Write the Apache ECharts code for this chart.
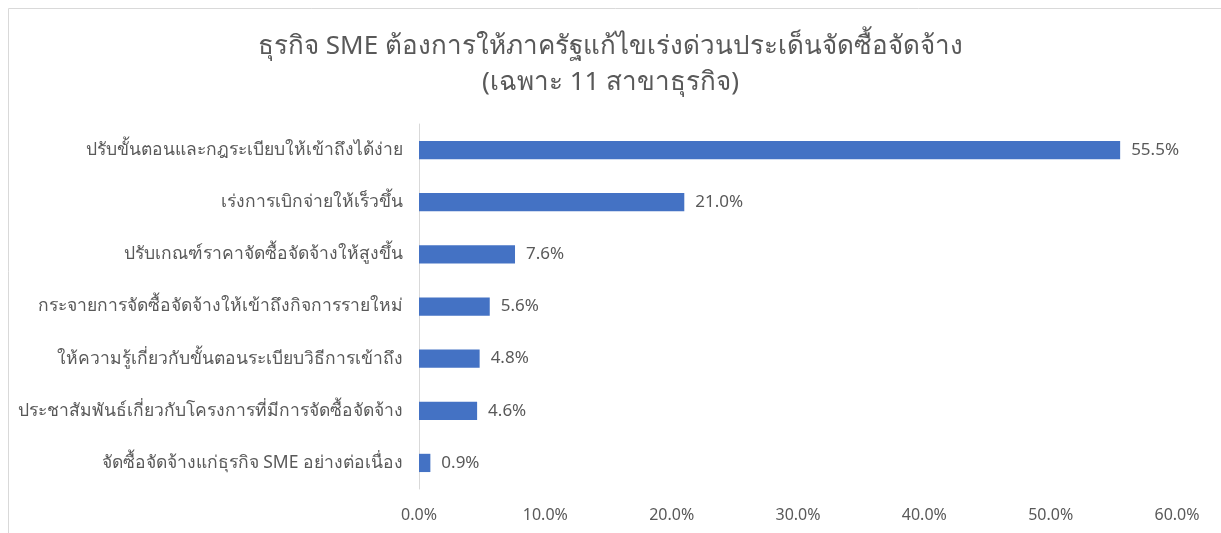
<!DOCTYPE html>
<html>
<head>
<meta charset="utf-8">
<script src="https://cdn.jsdelivr.net/npm/echarts@6/dist/echarts.min.js"></script>
<style>
  html, body { margin: 0; padding: 0; background: #fff; }
  #main { width: 1221px; height: 533px; }
</style>
</head>
<body>
<div id="main"></div>
<script>
// data (percent)
const categories = [
  'ปรับขั้นตอนและกฎระเบียบให้เข้าถึงได้ง่าย',
  'เร่งการเบิกจ่ายให้เร็วขึ้น',
  'ปรับเกณฑ์ราคาจัดซื้อจัดจ้างให้สูงขึ้น',
  'กระจายการจัดซื้อจัดจ้างให้เข้าถึงกิจการรายใหม่',
  'ให้ความรู้เกี่ยวกับขั้นตอนระเบียบวิธีการเข้าถึง',
  'ประชาสัมพันธ์เกี่ยวกับโครงการที่มีการจัดซื้อจัดจ้าง',
  'จัดซื้อจัดจ้างแก่ธุรกิจ SME อย่างต่อเนื่อง'
];
const values = [55.5, 21.0, 7.6, 5.6, 4.8, 4.6, 0.9];
const titleLines = [
  'ธุรกิจ SME ต้องการให้ภาครัฐแก้ไขเร่งด่วนประเด็นจัดซื้อจัดจ้าง',
  '(เฉพาะ 11 สาขาธุรกิจ)'
];

let myChart = echarts.init(document.getElementById('main'));
const textColor = '#595959';

let option = {
  animation: false,
  textStyle: { fontFamily: 'Noto Sans, sans-serif' },
  title: {
    text: titleLines.join('\n'),
    left: 'center',
    top: 24,
    textStyle: {
      color: textColor,
      fontSize: 26,
      fontWeight: 'normal',
      lineHeight: 36
    }
  },
  graphic: [
    {
      type: 'rect',
      silent: true,
      shape: { x: 8.5, y: 8.5, width: 1400, height: 700 },
      style: { fill: 'none', stroke: '#d9d9d9', lineWidth: 1 }
    }
  ],
  grid: { left: 419, right: 44, top: 124, bottom: 44 },
  xAxis: {
    type: 'value',
    min: 0,
    max: 60,
    interval: 10,
    splitLine: { show: false },
    axisLine: { show: false },
    axisTick: { show: false },
    axisLabel: {
      color: textColor,
      fontSize: 16,
      margin: 18,
      formatter: v => v.toFixed(1) + '%'
    }
  },
  yAxis: {
    type: 'category',
    inverse: true,
    data: categories,
    axisLine: { show: true, lineStyle: { color: '#d9d9d9' } },
    axisTick: { show: false },
    axisLabel: { color: textColor, fontSize: 17.5, margin: 16 }
  },
  series: [
    {
      type: 'bar',
      data: values,
      barCategoryGap: '65%',
      itemStyle: { color: '#4472c4' },
      label: {
        show: true,
        position: 'right',
        distance: 11,
        color: textColor,
        fontSize: 17,
        formatter: p => p.value.toFixed(1) + '%'
      }
    }
  ]
};
myChart.setOption(option);
</script>
</body>
</html>
